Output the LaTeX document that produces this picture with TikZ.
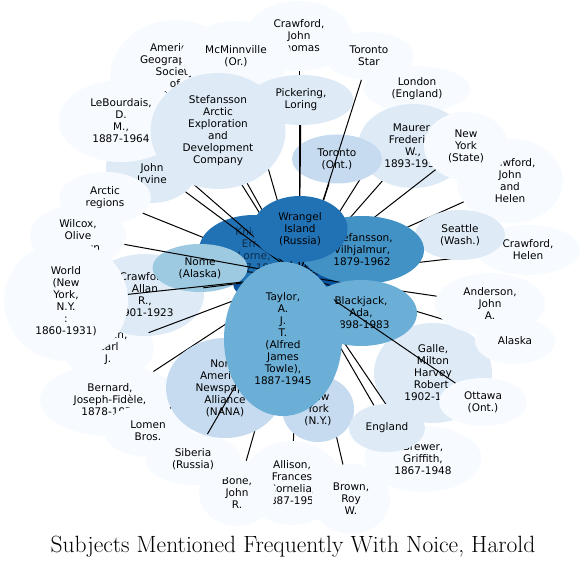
\documentclass[tikz,border=0pt]{standalone}
\usepackage{fontspec}
\usetikzlibrary{shapes.geometric}
\newfontfamily\subjfont{DejaVu Sans}
\definecolor{b1}{HTML}{F7FBFF}
\definecolor{b2}{HTML}{DEEBF7}
\definecolor{b3}{HTML}{C6DBEF}
\definecolor{b4}{HTML}{9ECAE1}
\definecolor{b5}{HTML}{6BAED6}
\definecolor{b6}{HTML}{4292C6}
\definecolor{b7}{HTML}{2171B5}
\definecolor{b8}{HTML}{08519C}
\begin{document}
\begin{tikzpicture}[
  x=1pt,y=-1pt,
  subj/.style={ellipse,fill=#1,inner sep=0pt,align=center,
    font=\subjfont\fontsize{10.5}{12}\selectfont},
  link/.style={line width=1pt}
]
\useasboundingbox (0,0) rectangle (587,569);
\coordinate (hub) at (299,276);
\node[subj=b1,minimum width=106,minimum height=70] (crawjt) at (299,36) {Crawford,\\John\\Thomas};
\node[subj=b1,minimum width=130,minimum height=116] (amgeo) at (175,78) {American\\Geographical\\Society\\of\\New\\York};
\node[subj=b1,minimum width=110,minimum height=70] (mcminn) at (236,56) {McMinnville\\(Or.)};
\node[subj=b1,minimum width=90,minimum height=48] (torstar) at (369,56) {Toronto\\Star};
\node[subj=b1,minimum width=107,minimum height=46] (london) at (417,89) {London\\(England)};
\node[subj=b2,minimum width=92,minimum height=72] (irvine) at (152,167) {\strut\\John\\Irvine};
\node[subj=b1,minimum width=125,minimum height=82] (lebour) at (121,121) {LeBourdais,\\D.\\M.,\\1887-1964};
\node[subj=b1,minimum width=92,minimum height=52] (arctic) at (105,198) {Arctic\\regions};
\draw[link] (amgeo) -- (hub);
\draw[link] (mcminn) -- (hub);
\draw[link] (arctic) -- (hub);
\node[subj=b8,minimum width=110,minimum height=42] (core) at (288,284) {};
\node[subj=b7,text=b7!40!black,minimum width=110,minimum height=70] (knight) at (254,250) {Knight,\\Errol\\Lorne,\\1897-1923};
\draw[link] (lebour) -- (hub);
\node[subj=b2,minimum width=135,minimum height=116] (sacorp) at (218,131) {Stefansson\\Arctic\\Exploration\\and\\Development\\Company};
\draw[link] (sacorp) -- (hub);
\draw[link] (london) -- (hub);
\node[subj=b2,minimum width=110,minimum height=84] (maurer) at (413,146) {Maurer,\\Frederick\\W.,\\1893-1953};
\node[subj=b3,minimum width=90,minimum height=49] (toront) at (337,159) {Toronto\\(Ont.)};
\draw[link] (crawjt) -- (hub);
\node[subj=b2,minimum width=105,minimum height=50] (picker) at (301,100) {Pickering,\\Loring};
\draw[link] (picker) -- (hub);
\draw[link] (torstar) -- (hub);
\draw[link] (toront) -- (hub);
\node[subj=b1,minimum width=106,minimum height=85] (crawjh) at (510,181) {Crawford,\\John\\and\\Helen};
\node[subj=b1,minimum width=84,minimum height=68] (nystate) at (466,146) {New\\York\\(State)};
\draw[link] (maurer) -- (hub);
\draw[link] (nystate) -- (hub);
\draw[link] (crawjh) -- (hub);
\node[subj=b1,minimum width=104,minimum height=50] (crawh) at (528,250) {Crawford,\\Helen};
\draw[link] (crawh) -- (hub);
\node[subj=b2,minimum width=90,minimum height=50] (seattle) at (460,235) {Seattle\\(Wash.)};
\draw[link] (seattle) -- (hub);
\node[subj=b1,minimum width=96,minimum height=62] (wilcox) at (78,236) {Wilcox,\\Olive\\Rathbun};
\node[subj=b1,minimum width=92,minimum height=64] (lomenc) at (108,348) {Lomen,\\Carl\\J.};
\node[subj=b2,minimum width=118,minimum height=82] (crawa) at (145,295) {Crawford,\\Allan\\R.,\\1901-1923};
\node[subj=b1,minimum width=124,minimum height=120] (world) at (66,301) {World\\(New\\York,\\N.Y.\\:\\1860-1931)};
\node[subj=b1,minimum width=140,minimum height=72] (bernard) at (110,400) {Bernard,\\Joseph-Fidèle,\\1878-1972};
\node[subj=b1,minimum width=88,minimum height=52] (lomenb) at (148,431) {Lomen\\Bros.};
\node[subj=b1,minimum width=100,minimum height=84] (allison) at (292,483) {Allison,\\Frances\\Cornelia,\\1887-1955};
\node[subj=b1,minimum width=76,minimum height=66] (bone) at (237,493) {Bone,\\John\\R.};
\node[subj=b1,minimum width=95,minimum height=52] (siberia) at (193,459) {Siberia\\(Russia)};
\node[subj=b1,minimum width=78,minimum height=70] (brown) at (351,499) {Brown,\\Roy\\W.};
\node[subj=b1,minimum width=117,minimum height=66] (brewer) at (423,459) {Brewer,\\Griffith,\\1867-1948};
\node[subj=b2,minimum width=118,minimum height=100] (galle) at (433,373) {Galle,\\Milton\\Harvey\\Robert,\\1902-1923};
\node[subj=b1,minimum width=88,minimum height=48] (ottawa) at (483,402) {Ottawa\\(Ont.)};
\node[subj=b1,minimum width=80,minimum height=46] (alaska) at (515,341) {Alaska};
\draw[link] (alaska) -- (hub);
\node[subj=b1,minimum width=110,minimum height=62] (anders) at (490,304) {Anderson,\\John\\A.};
\draw[link] (anders) -- (hub);
\draw[link] (galle) -- (hub);
\node[subj=b4,minimum width=95,minimum height=48] (nome) at (200,268) {Nome\\(Alaska)};
\draw[link] (nome) -- (hub);
\draw[link] (irvine) -- (hub);
\draw[link] (wilcox) -- (hub);
\draw[link] (world) -- (hub);
\draw[link] (crawa) -- (hub);
\draw[link] (lomenc) -- (hub);
\draw[link] (bernard) -- (hub);
\node[subj=b6,minimum width=124,minimum height=68] (stefv) at (362,250) {Stefansson,\\Vilhjalmur,\\1879-1962};
\node[subj=b7,minimum width=95,minimum height=66] (wrangel) at (300,229) {Wrangel\\Island\\(Russia)};
\draw[link] (lomenb) -- (hub);
\draw[link] (bone) -- (hub);
\node[subj=b3,minimum width=118,minimum height=100] (nana) at (225,388) {North\\American\\Newspaper\\Alliance\\(NANA)};
\draw[link] (siberia) -- (hub);
\draw[link] (allison) -- (hub);
\draw[link] (brown) -- (hub);
\node[subj=b3,minimum width=72,minimum height=66] (newyork) at (318,409) {New\\York\\(N.Y.)};
\draw[link] (brewer) -- (hub);
\node[subj=b2,minimum width=76,minimum height=48] (england) at (387,428) {England};
\draw[link] (england) -- (hub);
\node[subj=b5,minimum width=112,minimum height=66] (blackj) at (361,313) {Blackjack,\\Ada,\\1898-1983};
\draw[link] (ottawa) -- (hub);
\node[subj=b5,minimum width=118,minimum height=154] (taylor) at (283,339) {Taylor,\\A.\\J.\\T.\\(Alfred\\James\\Towle),\\1887-1945};
\node[font=\fontsize{23.5}{28}\selectfont] (title) at (293,547) {Subjects Mentioned Frequently With Noice, Harold};
\end{tikzpicture}
\end{document}
